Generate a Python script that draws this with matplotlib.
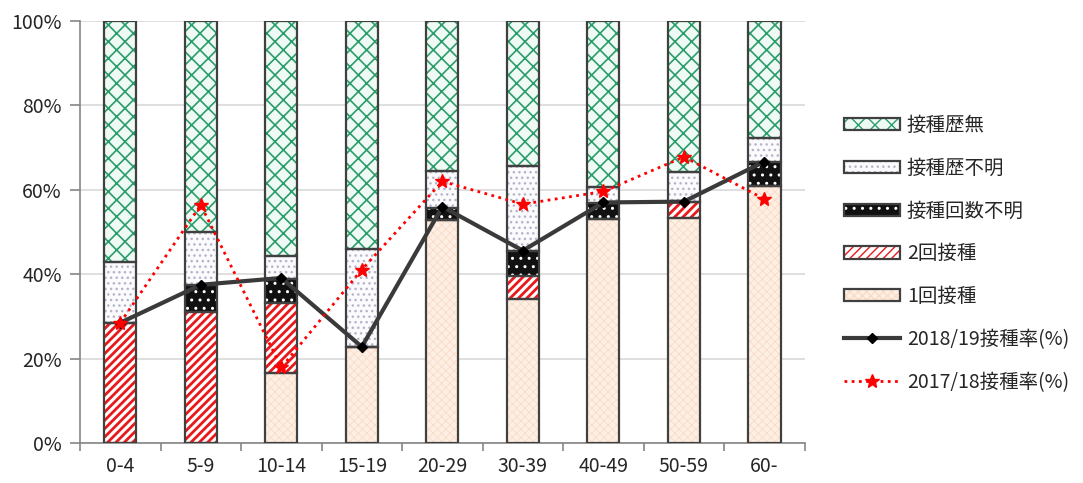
import matplotlib
matplotlib.use("Agg")
import numpy as np
import matplotlib.pyplot as plt
from matplotlib.patches import Patch
from matplotlib.legend_handler import HandlerTuple
from matplotlib.ticker import FixedLocator, PercentFormatter

plt.rcParams['font.family'] = ['Noto Sans CJK JP', 'DejaVu Sans']

# age groups
cats = ['0-4', '5-9', '10-14', '15-19', '20-29', '30-39', '40-49', '50-59', '60-']

# vaccination status shares (%), bottom to top
once = [0, 0, 16.5, 22.8, 52.8, 34.1, 53.2, 53.4, 60.9]
twice = [28.5, 31.1, 16.7, 0, 0, 5.5, 0, 3.8, 0]
count_unknown = [0, 6.3, 5.6, 0, 3.0, 6.0, 3.6, 0, 5.8]
hist_unknown = [14.5, 12.7, 5.5, 23.1, 8.7, 20.1, 3.9, 7.1, 5.5]
no_hist = [57.0, 49.9, 55.7, 54.1, 35.5, 34.3, 39.3, 35.7, 27.8]

# vaccination rate per season (%)
rate_1819 = [28.5, 37.5, 39.1, 22.8, 56.0, 45.6, 57.0, 57.2, 66.7]
rate_1718 = [28.5, 56.4, 17.9, 41.1, 62.0, 56.6, 59.6, 67.8, 57.8]

layers = [
    # label, values, face, hatch colour, hatch, hatch width
    ('1回接種', once, '#fdefe4', '#f9dcc6', 'xxxx', 0.6),
    ('2回接種', twice, '#ffffff', '#e8191c', '////', 2.0),
    ('接種回数不明', count_unknown, '#111111', '#ffffff', '..', 1.0),
    ('接種歴不明', hist_unknown, '#fbfbfd', '#b4b4c8', '...', 1.0),
    ('接種歴無', no_hist, '#effaf4', '#2a9d6a', 'xx', 1.2),
]

fig = plt.figure(figsize=(10.83, 4.83), dpi=100)
ax = fig.add_axes([0.0739, 0.0828, 0.6691, 0.8737])

x = np.arange(len(cats))
width = 0.4
edge = '#404040'
bottom = np.zeros(len(cats))
handles = {}
for label, vals, face, hcol, hatch, hlw in layers:
    vals = np.array(vals, dtype=float)
    with plt.rc_context({'hatch.linewidth': hlw}):
        ax.bar(x, vals, width, bottom=bottom, facecolor=face, edgecolor=hcol,
               hatch=hatch, linewidth=0, zorder=2)
        fill = Patch(facecolor=face, edgecolor=hcol, hatch=hatch, linewidth=0)
    ax.bar(x, vals, width, bottom=bottom, facecolor='none', edgecolor=edge,
           linewidth=1.6, zorder=3)
    bottom += vals
    handles[label] = (fill, Patch(facecolor='none', edgecolor=edge, linewidth=1.6))

l1, = ax.plot(x, rate_1819, color='#3a3a3a', lw=3, marker='D', ms=5,
              mfc='black', mec='black', zorder=5)
l2, = ax.plot(x, rate_1718, color='#ff0000', lw=2, ls=(0, (1, 1.6)),
              marker='*', ms=10, mfc='#ff0000', mec='#ff0000', zorder=6)

ax.set_xlim(-0.5, len(cats) - 0.5)
ax.set_ylim(0, 100)
ax.set_yticks(np.arange(0, 101, 20))
ax.yaxis.set_major_formatter(PercentFormatter(decimals=0))
ax.xaxis.set_major_locator(FixedLocator(x))
ax.set_xticklabels(cats)
ax.xaxis.set_minor_locator(FixedLocator(np.arange(-0.5, len(cats), 1)))
ax.tick_params(axis='x', which='major', length=0, pad=9, labelsize=14, labelcolor='#262626')
ax.tick_params(axis='x', which='minor', length=6, color='#868686', width=1.2)
ax.tick_params(axis='y', length=7, color='#868686', width=1.2, pad=6,
               labelsize=14, labelcolor='#262626')
ax.grid(axis='y', color='#d9d9d9', lw=1.2, zorder=0)
ax.set_axisbelow(True)
for s in ['top', 'right']:
    ax.spines[s].set_visible(False)
for s in ['left', 'bottom']:
    ax.spines[s].set_color('#868686')
    ax.spines[s].set_linewidth(1.2)

order = ['接種歴無', '接種歴不明', '接種回数不明', '2回接種', '1回接種']
leg_handles = [handles[k] for k in order] + [l1, l2]
leg_labels = order + ['2018/19接種率(%)', '2017/18接種率(%)']
fig.legend(leg_handles, leg_labels, loc='upper left',
           bbox_to_anchor=(0.770, 0.782), frameon=False, fontsize=14,
           labelspacing=1.12, handlelength=2.9, handleheight=0.6,
           handletextpad=0.35, borderpad=0, labelcolor='#262626',
           handler_map={tuple: HandlerTuple(ndivide=1, pad=0)})

fig.savefig('out.png', dpi=100)
